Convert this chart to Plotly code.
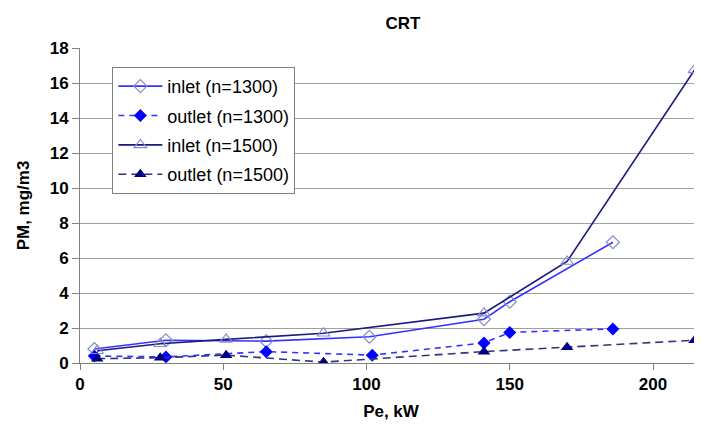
import plotly.graph_objects as go

# Data
x_in1300 = [5, 30, 65, 101, 141, 150, 186]
y_in1300 = [0.8, 1.3, 1.25, 1.5, 2.5, 3.5, 6.9]

x_out1300 = [5, 30, 65, 102, 141, 150, 186]
y_out1300 = [0.4, 0.35, 0.65, 0.45, 1.15, 1.75, 1.95]

x_in1500 = [6, 28, 51, 85, 141, 170, 214.5]
y_in1500 = [0.7, 1.1, 1.35, 1.7, 2.85, 5.8, 16.75]

x_out1500 = [6, 28, 51, 85, 141, 170, 214.5]
y_out1500 = [0.25, 0.3, 0.45, 0.05, 0.65, 0.9, 1.3]

names = ["inlet (n=1300)", "outlet (n=1300)", "inlet (n=1500)", "outlet (n=1500)"]
x_ticks = [0, 50, 100, 150, 200]
y_ticks = [0, 2, 4, 6, 8, 10, 12, 14, 16, 18]

fig = go.Figure()
fig.add_trace(go.Scatter(
    x=x_in1300, y=y_in1300, name=names[0], mode="lines+markers", legendgroup="a",
    line=dict(color="#3333ff", width=1.6),
    marker=dict(symbol="diamond-open", size=10, color="#8a8ac8", line=dict(width=1.2))))
fig.add_trace(go.Scatter(
    x=x_out1300, y=y_out1300, name=names[1], mode="lines+markers", legendgroup="b",
    line=dict(color="#3333ff", width=1.6, dash="6px,5px"),
    marker=dict(symbol="diamond", size=10, color="#0000ff")))
fig.add_trace(go.Scatter(
    x=x_in1500, y=y_in1500, name=names[2], mode="lines+markers", legendgroup="c",
    line=dict(color="#1a1a80", width=1.6),
    marker=dict(symbol="triangle-up-open", size=11, color="#8a8ac8", line=dict(width=1.2))))
fig.add_trace(go.Scatter(
    x=x_out1500, y=y_out1500, name=names[3], mode="lines+markers", legendgroup="d",
    line=dict(color="#33337f", width=1.6, dash="8px,5px"),
    marker=dict(symbol="triangle-up", size=11, color="#000080")))

# page body has an 8px offset, so the figure is 8px smaller than the window
fig.update_layout(
    width=694, height=427,
    margin=dict(l=72, r=0, t=40, b=72),
    paper_bgcolor="white", plot_bgcolor="white",
    font=dict(family="Liberation Sans, Arial, sans-serif", color="black"),
    title=dict(text="<b>CRT</b>", x=0.569, xanchor="center", y=0.965, yanchor="middle",
               font=dict(size=17)),
    showlegend=True,
    legend=dict(x=0.052, y=0.94, xanchor="left", yanchor="top",
                bgcolor="white", bordercolor="#808080", borderwidth=1,
                font=dict(size=18), tracegroupgap=3, itemwidth=44),
    xaxis=dict(range=[0, 217.1], tickvals=x_ticks, ticks="outside", ticklen=6,
               tickcolor="#808080", showline=True, linecolor="#808080",
               showgrid=False, zeroline=False,
               tickfont=dict(size=17, weight="bold"),
               title=dict(text="<b>Pe, kW</b>", font=dict(size=17), standoff=11)),
    yaxis=dict(range=[0, 18], tickvals=y_ticks, ticks="outside", ticklen=7,
               tickcolor="#808080", showline=True, linecolor="#808080",
               showgrid=True, gridcolor="#a0a0a0", gridwidth=1.3, zeroline=False,
               tickfont=dict(size=17, weight="bold"),
               title=dict(text="<b>PM, mg/m3</b>", font=dict(size=17), standoff=15)),
)

fig.write_html("out.html")
